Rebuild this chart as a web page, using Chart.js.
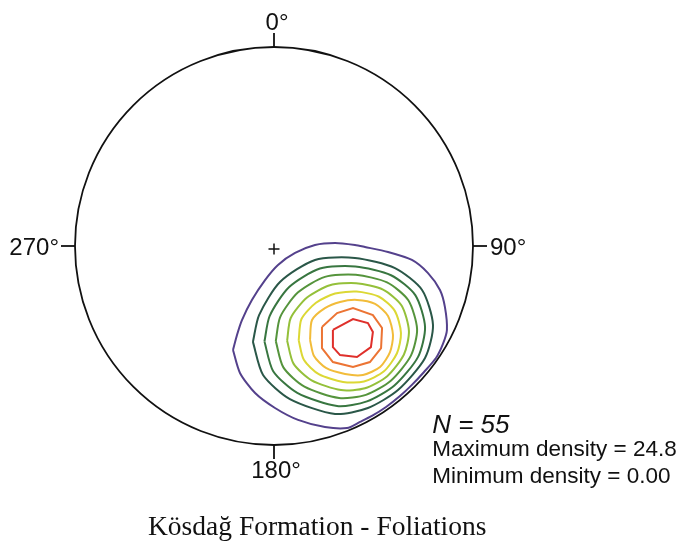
<!DOCTYPE html>
<html><head><meta charset="utf-8">
<script src="https://cdn.jsdelivr.net/npm/chart.js@4.4.0/dist/chart.umd.min.js"></script>
<style>html,body{margin:0;padding:0;background:#fff}#wrap{position:relative;width:680px;height:551px}</style>
</head><body><div id="wrap"><canvas id="c"></canvas></div>
<script>
// Stereonet projection coordinates (x = east, y = north), primitive circle radius = 100
const contour9 = [[-20.6,-52.3],[-18.6,-44.7],[-16.1,-37.2],[-11.1,-27.1],[-4.5,-17.1],[2.0,-9.5],[10.6,-3.5],[20.6,0.5],[30.7,1.5],[40.7,0.5],[45.7,-0.5],[57.3,-3.0],[69.3,-7.0],[77.4,-13.6],[83.4,-22.1],[85.9,-30.7],[86.9,-42.2],[84.9,-49.2],[81.4,-56.3],[75.4,-63.3],[69.3,-69.8],[63.3,-75.4],[56.3,-80.9],[49.2,-85.4],[43.2,-88.4],[36.7,-91.5],[25.6,-91.0],[12.1,-87.4],[0.5,-81.4],[-9.5,-73.9],[-17.1,-63.8]];
const contour8 = [[-10.6,-48.2],[-7.5,-34.7],[3.0,-18.1],[20.6,-7.0],[40.7,-6.0],[60.8,-11.1],[74.4,-22.1],[79.9,-39.7],[75.9,-56.3],[62.3,-72.4],[47.2,-81.4],[30.7,-84.4],[8.0,-76.9],[-5.5,-64.8]];
const contour7 = [[-4.8,-48.0],[-2.2,-35.2],[7.5,-20.7],[23.1,-11.3],[40.9,-10.3],[58.8,-14.7],[71.0,-24.7],[75.9,-40.7],[72.4,-55.7],[60.5,-70.1],[46.7,-78.1],[31.7,-80.4],[11.7,-73.8],[-0.4,-62.9]];
const contour6 = [[0.9,-47.8],[3.1,-35.7],[12.1,-23.3],[25.6,-15.5],[41.1,-14.5],[56.8,-18.3],[67.5,-27.3],[71.9,-41.7],[68.8,-55.1],[58.7,-67.7],[46.2,-74.8],[32.7,-76.4],[15.3,-70.7],[4.7,-61.0]];
const contour5 = [[6.6,-47.6],[8.4,-36.2],[16.6,-25.9],[28.1,-19.7],[41.3,-18.7],[54.8,-21.9],[64.1,-29.9],[67.8,-42.7],[65.3,-54.5],[56.9,-65.4],[45.7,-71.5],[33.7,-72.4],[18.9,-67.5],[9.8,-59.1]];
const contour4 = [[12.4,-47.4],[13.8,-36.7],[21.1,-28.5],[30.7,-23.9],[41.5,-22.9],[52.8,-25.5],[60.7,-32.6],[63.8,-43.7],[61.8,-53.9],[55.1,-63.1],[45.2,-68.1],[34.7,-68.3],[22.5,-64.4],[15.0,-57.2]];
const contour3 = [[18.1,-47.2],[19.1,-37.2],[25.6,-31.2],[33.2,-28.1],[41.7,-27.1],[50.8,-29.1],[57.3,-35.2],[59.8,-44.7],[58.3,-53.3],[53.3,-60.8],[44.7,-64.8],[35.7,-64.3],[26.1,-61.3],[20.1,-55.3]];
const contour2 = [[24.1,-40.7],[31.7,-33.7],[39.7,-31.2],[49.7,-34.7],[54.3,-41.2],[53.8,-51.3],[48.2,-58.3],[39.7,-60.8],[29.6,-58.3],[24.1,-51.3]];
const contour1 = [[29.6,-42.2],[39.7,-36.7],[47.2,-38.7],[49.7,-43.2],[48.7,-50.8],[41.7,-55.8],[33.2,-54.8],[29.6,-50.8]];

const contours = [contour9, contour8, contour7, contour6, contour5, contour4, contour3, contour2, contour1];
const contourColors = ['#54418c','#2a5748','#387640','#55943c','#94c03a','#dcd835','#f2bc3a','#ec7434','#df302b'];

const tickAzimuths = [0, 90, 180, 270];
const tickLabels = ['0°', '90°', '180°', '270°'];
const sampleCount = 55;
const maxDensity = '24.8';
const minDensity = '0.00';
const titleText = 'Kösdağ Formation - Foliations';

const netPlugin = {
  id: 'net',
  afterDatasetsDraw(chart) {
    const {ctx, scales: {x, y}} = chart;
    const cx = x.getPixelForValue(0), cy = y.getPixelForValue(0);
    const rx = x.getPixelForValue(100) - cx;
    const ry = cy - y.getPixelForValue(100);
    ctx.save();
    ctx.strokeStyle = '#111';
    ctx.lineWidth = 1.8;
    ctx.beginPath();
    ctx.ellipse(cx, cy, rx, ry, 0, 0, 2 * Math.PI);
    ctx.stroke();
    const tickLen = 14;
    ctx.fillStyle = '#111';
    ctx.font = '24px "Liberation Sans", Arial, sans-serif';
    tickAzimuths.forEach((az, i) => {
      const a = az * Math.PI / 180;
      const dx = Math.sin(a), dy = -Math.cos(a);
      const x0 = cx + dx * rx, y0 = cy + dy * ry;
      const x1 = x0 + dx * tickLen, y1 = y0 + dy * tickLen;
      ctx.beginPath(); ctx.moveTo(x0, y0); ctx.lineTo(x1, y1); ctx.stroke();
      const lab = tickLabels[i];
      if (az === 0) { ctx.textAlign = 'center'; ctx.fillText(lab, x1 + 3, y1 - 3); }
      else if (az === 90) { ctx.textAlign = 'left'; ctx.fillText(lab, x1 + 3, y1 + 8.5); }
      else if (az === 180) { ctx.textAlign = 'center'; ctx.fillText(lab, x1 + 2, y1 + 19); }
      else { ctx.textAlign = 'right'; ctx.fillText(lab, x1 - 2, y1 + 8.5); }
    });
    // centre cross
    ctx.lineWidth = 1.5;
    ctx.beginPath();
    ctx.moveTo(cx - 5.5, cy + 3); ctx.lineTo(cx + 5.5, cy + 3);
    ctx.moveTo(cx, cy - 2.5); ctx.lineTo(cx, cy + 8.5);
    ctx.stroke();
    // statistics
    const sx = cx + rx * 0.795;
    ctx.textAlign = 'left';
    ctx.font = 'italic 26px "Liberation Sans", Arial, sans-serif';
    ctx.fillText('N = ' + sampleCount, sx, cy + 187);
    ctx.font = '22.5px "Liberation Sans", Arial, sans-serif';
    ctx.fillText('Maximum density = ' + maxDensity, sx, cy + 210);
    ctx.fillText('Minimum density = ' + minDensity, sx, cy + 237);
    // title
    ctx.font = '27.5px "Liberation Serif", "Times New Roman", serif';
    ctx.fillText(titleText, 148, cy + 289);
    ctx.restore();
  }
};

new Chart(document.getElementById('c'), {
  type: 'scatter',
  data: {
    datasets: contours.map((pts, i) => ({
      data: pts.concat([pts[0]]).map(([px, py]) => ({x: px, y: py})),
      showLine: true,
      borderColor: contourColors[i],
      borderWidth: 2,
      pointRadius: 0,
      pointHoverRadius: 0,
      tension: i < 7 ? 0.25 : 0,
      fill: false,
      clip: false
    }))
  },
  options: {
    animation: false,
    responsive: true,
    maintainAspectRatio: false,
    layout: {padding: {left: 75, right: 207, top: 47, bottom: 106}},
    scales: {
      x: {type: 'linear', min: -100, max: 100, display: false},
      y: {type: 'linear', min: -100, max: 100, display: false}
    },
    plugins: {legend: {display: false}, tooltip: {enabled: false}}
  },
  plugins: [netPlugin]
});
</script>
</body></html>
